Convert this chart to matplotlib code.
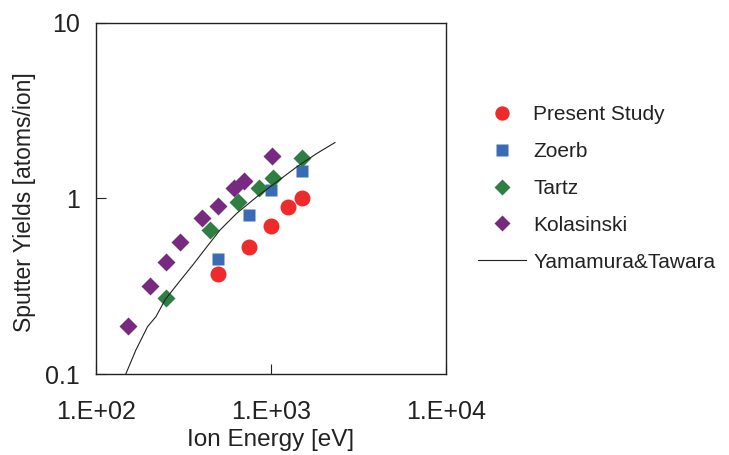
import matplotlib
matplotlib.use("Agg")
import matplotlib.pyplot as plt

plt.rcParams.update({"font.family": ["Liberation Sans", "DejaVu Sans"]})

# data
present_e = [500, 750, 1000, 1250, 1500]
present_y = [0.37, 0.53, 0.70, 0.89, 1.01]

zoerb_e = [500, 750, 1000, 1500]
zoerb_y = [0.45, 0.80, 1.12, 1.43]

tartz_e = [250, 450, 650, 850, 1030, 1500]
tartz_y = [0.272, 0.66, 0.95, 1.14, 1.31, 1.70]

kolas_e = [152, 203, 251, 301, 404, 498, 615, 698, 1009]
kolas_y = [0.187, 0.317, 0.432, 0.561, 0.77, 0.90, 1.14, 1.26, 1.74]

yt_e = [148, 169, 197, 220, 249, 299, 357, 416, 511, 637, 829, 1077, 1402, 1824, 2323]
yt_y = [0.100, 0.137, 0.186, 0.212, 0.266, 0.335, 0.417, 0.508, 0.66, 0.822, 1.02, 1.24, 1.51, 1.80, 2.08]

xticks = [1e2, 1e3, 1e4]
xtick_labels = ["1.E+02", "1.E+03", "1.E+04"]
yticks = [0.1, 1, 10]
ytick_labels = ["0.1", "1", "10"]

fig = plt.figure(figsize=(7.29, 4.55), dpi=100)
ax = fig.add_axes([0.1317, 0.178, 0.480, 0.772])

ax.plot(present_e, present_y, "o", color="#ee2a2a", ms=11.5, mec="none", label="Present Study")
ax.plot(zoerb_e, zoerb_y, "s", color="#3a6bb6", ms=8.8, mec="none", label="Zoerb")
ax.plot(tartz_e, tartz_y, "D", color="#2f7f43", ms=9.5, mec="none", label="Tartz")
ax.plot(kolas_e, kolas_y, "D", color="#782a82", ms=9.5, mec="none", label="Kolasinski")
ax.plot(yt_e, yt_y, "-", color="#222222", lw=0.8, label="Yamamura&Tawara")

ax.set_xscale("log"); ax.set_yscale("log")
ax.set_xlim(1e2, 1e4); ax.set_ylim(0.1, 10)
ax.set_xticks(xticks, xtick_labels)
ax.set_yticks(yticks, ytick_labels)
ax.minorticks_off()
ax.tick_params(direction="in", length=7, width=0.8, labelsize=18, colors="#222222")
ax.tick_params(axis="x", pad=19)
ax.tick_params(axis="y", pad=11.5)
for s in ax.spines.values():
    s.set_linewidth(1.0); s.set_color("#222222")

ax.set_xlabel("Ion Energy [eV]", fontsize=17.5, color="#222222", labelpad=3.5)
fig.text(25 / 729, 1 - 202 / 455, "Sputter Yields [atoms/ion]", ha="center", va="center",
         rotation=90, fontsize=16.5, color="#222222")

ax.legend(loc="upper left", bbox_to_anchor=(478 / 729, 1 - 105 / 455), bbox_transform=fig.transFigure,
          frameon=False, fontsize=15, handlelength=2.3, handletextpad=0.35, labelspacing=0.86,
          markerscale=0.9, borderpad=0, borderaxespad=0, labelcolor="#222222")

fig.savefig("out.png", dpi=100)
